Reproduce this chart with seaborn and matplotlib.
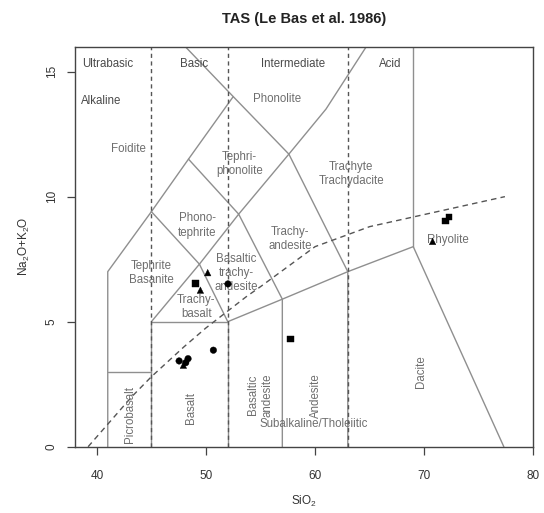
import matplotlib
matplotlib.use("Agg")
import matplotlib.pyplot as plt
import seaborn as sns
import pandas as pd

# ---------------- data ----------------
sample_sio2 = [49.03, 57.73, 71.96, 72.29,
               50.16, 49.49, 47.93, 70.77,
               52.02, 50.68, 47.54, 48.36, 48.15]
sample_alk = [6.52, 4.30, 9.02, 9.18,
              6.96, 6.26, 3.26, 8.21,
              6.51, 3.86, 3.43, 3.52, 3.36]
sample_group = ["square"] * 4 + ["triangle"] * 4 + ["dot"] * 5

# Le Bas et al. (1986) field boundaries (SiO2, Na2O+K2O)
boundaries = [
    ([41, 41, 45], [0, 7, 9.4]),
    ([41, 45], [3, 3]),
    ([45, 45, 52, 52], [0, 5, 5, 0]),
    ([45, 49.4, 52], [5, 7.3, 5]),
    ([49.4, 45], [7.3, 9.4]),
    ([49.4, 53, 57, 57], [7.3, 9.3, 5.9, 0]),
    ([52, 57, 63, 69, 77.3], [5, 5.9, 7, 8, 0]),
    ([45, 48.4, 52.5, 57.6, 63, 63], [9.4, 11.5, 14, 11.7, 7, 0]),
    ([48.4, 53, 57.6], [11.5, 9.3, 11.7]),
    ([48.1, 52.5], [16, 14]),
    ([57.6, 61, 64.7], [11.7, 13.5, 16]),
    ([69, 69], [8, 16]),
]
divisions_x = [45, 52, 63]
alk_curve_x = [39.2, 40, 43.2, 45, 48, 50, 53.7, 55, 60, 65, 77.4]
alk_curve_y = [0, 0.4, 2, 2.8, 4, 4.75, 6, 6.4, 8, 8.8, 10]

field_names = ["Foidite", "Phonolite", "Tephri-\nphonolite", "Phono-\ntephrite",
               "Trachyte\nTrachydacite", "Trachy-\nandesite",
               "Basaltic\ntrachy-\nandesite", "Trachy-\nbasalt",
               "Tephrite\nBasanite", "Rhyolite", "Subalkaline/Tholeiitic"]
field_x = [42.9, 56.5, 53.1, 49.2, 63.3, 57.7, 52.8, 49.1, 45.0, 72.2, 59.9]
field_y = [11.9, 13.9, 11.3, 8.85, 10.9, 8.3, 6.95, 5.6, 6.95, 8.28, 0.9]

vfield_names = ["Picrobasalt", "Basalt", "Basaltic\nandesite", "Andesite", "Dacite"]
vfield_x = [43.0, 48.65, 54.95, 60.1, 69.7]
vfield_y = [1.27, 1.54, 2.06, 2.06, 3.0]

class_names = ["Ultrabasic", "Basic", "Intermediate", "Acid"]
class_x = [41.0, 48.95, 57.95, 66.9]
class_y = [15.3, 15.3, 15.3, 15.3]

x_ticks = [40, 50, 60, 70, 80]
y_ticks = [0, 5, 10, 15]

# ---------------- plot ----------------
sns.set_theme(style="white")
plt.rcParams["font.family"] = ["Liberation Sans", "DejaVu Sans"]
plt.rcParams["mathtext.fontset"] = "custom"
plt.rcParams["mathtext.rm"] = "Liberation Sans"
plt.rcParams["mathtext.it"] = "Liberation Sans"

fig = plt.figure(figsize=(5.44, 5.13), dpi=100)
ax = fig.add_axes([0.1379, 0.1292, 0.9803 - 0.1379, 0.9092 - 0.1292])

line_col = "#8f8f8f"
for bx, by in boundaries:
    ax.plot(bx, by, color=line_col, lw=1.0, zorder=2)
for dx in divisions_x:
    ax.plot([dx, dx], [0, 16], color="#555555", lw=1.0, ls=(0, (3, 2.5)), zorder=2)
ax.plot(alk_curve_x, alk_curve_y, color="#555555", lw=1.0, ls=(0, (4, 3)), zorder=2)

df = pd.DataFrame({"SiO2": sample_sio2, "alk": sample_alk, "group": sample_group})
sns.scatterplot(data=df, x="SiO2", y="alk", style="group",
                markers={"square": "s", "triangle": "^", "dot": "o"},
                color="black", s=22, edgecolor="black", linewidth=0.3,
                legend=False, ax=ax, zorder=5)

txt_col = "#6e6e6e"
for name, x, y in zip(field_names, field_x, field_y):
    ax.text(x, y, name, ha="center", va="center", fontsize=8.3, color=txt_col,
            linespacing=1.25, zorder=3)
for name, x, y in zip(vfield_names, vfield_x, vfield_y):
    ax.text(x, y, name, ha="center", va="center", fontsize=8.3, color=txt_col,
            rotation=90, linespacing=1.25, zorder=3)
for name, x, y in zip(class_names, class_x, class_y):
    ax.text(x, y, name, ha="center", va="center", fontsize=8.3, color="#4a4a4a", zorder=3)
ax.text(38.5, 13.84, "Alkaline", ha="left", va="center", fontsize=8.3, color="#4a4a4a")

ax.set_xlim(38, 80)
ax.set_ylim(0, 16)
ax.set_xticks(x_ticks)
ax.set_yticks(y_ticks)
ax.set_yticklabels([str(v) for v in y_ticks], rotation=90, va="center")
ax.tick_params(axis="both", direction="out", length=5.5, width=0.9, color="#444444",
               labelsize=8.5, labelcolor="#333333", bottom=True, left=True)
ax.tick_params(axis="x", pad=11)
ax.tick_params(axis="y", pad=7)
for sp in ax.spines.values():
    sp.set_color("#444444")
    sp.set_linewidth(1.0)

ax.set_xlabel("SiO$_2$", fontsize=8.5, color="#333333", labelpad=9)
ax.set_ylabel("Na$_2$O+K$_2$O", fontsize=8.5, color="#333333", labelpad=10)
ax.set_title("TAS (Le Bas et al. 1986)", fontsize=10.5, fontweight="bold",
             color="#222222", pad=17)

fig.savefig("out.png", dpi=100)
